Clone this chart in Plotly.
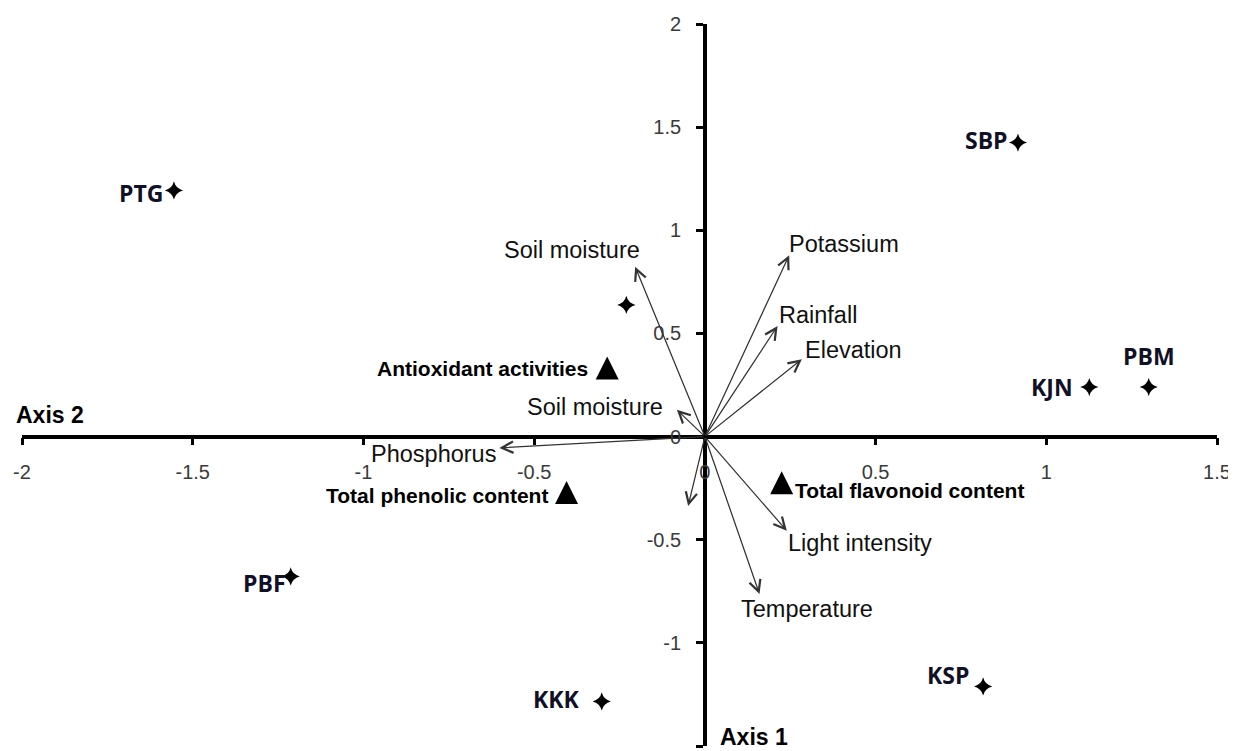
import plotly.graph_objects as go

# ---------------- data ----------------
site_names = ["PTG", "", "SBP", "KJN", "PBM", "PBF", "KKK", "KSP"]
site_x = [-1.555, -0.230, 0.917, 1.126, 1.300, -1.213, -0.302, 0.815]
site_y = [1.193, 0.638, 1.425, 0.240, 0.240, -0.678, -1.284, -1.211]

var_names = ["Potassium", "Rainfall", "Elevation", "Light intensity", "Temperature",
             "Soil moisture", "Soil moisture", "Phosphorus", ""]
var_x = [0.247, 0.213, 0.284, 0.240, 0.160, -0.204, -0.082, -0.602, -0.049]
var_y = [0.879, 0.536, 0.375, -0.457, -0.763, 0.823, 0.130, -0.055, -0.337]

trait_names = ["Antioxidant activities", "Total phenolic content", "Total flavonoid content"]
trait_x = [-0.286, -0.405, 0.225]
trait_y = [0.332, -0.271, -0.224]

x_tick_vals = [-2, -1.5, -1, -0.5, 0, 0.5, 1, 1.5]
x_tick_text = ["-2", "-1.5", "-1", "-0.5", "0", "0.5", "1", "1.5"]
y_tick_vals = [-1.5, -1, -0.5, 0, 0.5, 1, 1.5, 2]
y_tick_text = ["-1.5", "-1", "-0.5", "0", "0.5", "1", "1.5", "2"]

x_range = [-2, 1.5]
y_range = [-1.5, 2]
origin = (0, 0)

# ---------------- label placement (pixels) ----------------
site_label_pos = [("right", -9, -3), ("right", 0, 0), ("right", -8, 3), ("right", -14, 0),
                  ("center", 0, 31), ("right", -3, -7), ("right", -20, 2), ("right", -12, 11)]
var_label_pos = [("left", -2, 11), ("left", -1, 11), ("left", 1, 9), ("left", -1, -12),
                 ("left", -20, -15), ("right", 7, 17), ("right", -12, 3), ("right", -1, -6),
                 ("left", 0, 0)]
trait_label_pos = [("right", -17, 0), ("right", -17, -3), ("left", 11, -8)]

REG = "Liberation Sans, Arial, sans-serif"
SITE_FONT = "Open Sans, Lato, sans-serif"
TRI_SIZE = 23

fig = go.Figure()

# site points
fig.add_trace(go.Scatter(
    x=site_x, y=site_y, mode="markers",
    marker=dict(symbol="star-diamond", size=13, color="black"),
    hoverinfo="skip", showlegend=False, cliponaxis=False))

# trait triangles (upward, centred on the point)
fig.add_trace(go.Scatter(
    x=trait_x, y=trait_y, mode="markers",
    marker=dict(symbol="arrow-down", angle=180, standoff=TRI_SIZE / 2,
                size=TRI_SIZE, color="black", line=dict(width=0)),
    hoverinfo="skip", showlegend=False, cliponaxis=False))

# arrows
for vx, vy in zip(var_x, var_y):
    fig.add_annotation(x=vx, y=vy, ax=origin[0], ay=origin[1],
                       xref="x", yref="y", axref="x", ayref="y",
                       text="", showarrow=True, arrowhead=5, arrowsize=1.8,
                       arrowwidth=1.25, arrowcolor="#333333", standoff=0)

# arrow labels
for name, vx, vy, (xa, xs, ys) in zip(var_names, var_x, var_y, var_label_pos):
    if not name:
        continue
    fig.add_annotation(x=vx, y=vy, xref="x", yref="y", text=name, showarrow=False,
                       xanchor=xa, yanchor="middle", xshift=xs, yshift=ys,
                       font=dict(family=REG, size=23.5, color="#111111"))

# site labels
for name, sx, sy, (xa, xs, ys) in zip(site_names, site_x, site_y, site_label_pos):
    if not name:
        continue
    fig.add_annotation(x=sx, y=sy, xref="x", yref="y", text="<b>%s</b>" % name,
                       showarrow=False, xanchor=xa, yanchor="middle", xshift=xs, yshift=ys,
                       font=dict(family=SITE_FONT, size=23, color="#101028"))

# trait labels
for name, tx, ty, (xa, xs, ys) in zip(trait_names, trait_x, trait_y, trait_label_pos):
    fig.add_annotation(x=tx, y=ty, xref="x", yref="y", text="<b>%s</b>" % name,
                       showarrow=False, xanchor=xa, yanchor="middle", xshift=xs, yshift=ys,
                       font=dict(family=REG, size=21, color="black"))

# axis titles
fig.add_annotation(x=x_range[0], y=origin[1], xref="x", yref="y", text="<b>Axis 2</b>",
                   showarrow=False, xanchor="left", yanchor="middle", xshift=-8, yshift=22,
                   font=dict(family=REG, size=23, color="black"))
fig.add_annotation(x=origin[0], y=y_range[0], xref="x", yref="y", text="<b>Axis 1</b>",
                   showarrow=False, xanchor="left", yanchor="middle", xshift=13, yshift=9,
                   font=dict(family=REG, size=23, color="black"))

x_pos = (origin[1] - y_range[0]) / (y_range[1] - y_range[0])
y_pos = (origin[0] - x_range[0]) / (x_range[1] - x_range[0])

fig.update_layout(
    width=1228, height=743,
    margin=dict(l=10, r=17, t=15, b=5),
    paper_bgcolor="white", plot_bgcolor="white",
    xaxis=dict(range=x_range, anchor="free", position=x_pos,
               tickvals=x_tick_vals, ticktext=x_tick_text,
               showgrid=False, zeroline=False,
               showline=True, linecolor="black", linewidth=3.5,
               ticks="outside", ticklen=7, tickwidth=3, tickcolor="black",
               ticklabelstandoff=10,
               tickfont=dict(family=REG, size=20, color="#3a3a3a")),
    yaxis=dict(range=y_range, anchor="free", position=y_pos,
               tickvals=y_tick_vals, ticktext=y_tick_text,
               showgrid=False, zeroline=False,
               showline=True, linecolor="black", linewidth=3.5,
               ticks="outside", ticklen=7, tickwidth=3, tickcolor="black",
               ticklabelstandoff=11,
               tickfont=dict(family=REG, size=20, color="#3a3a3a")),
)

fig.write_html("out.html")
